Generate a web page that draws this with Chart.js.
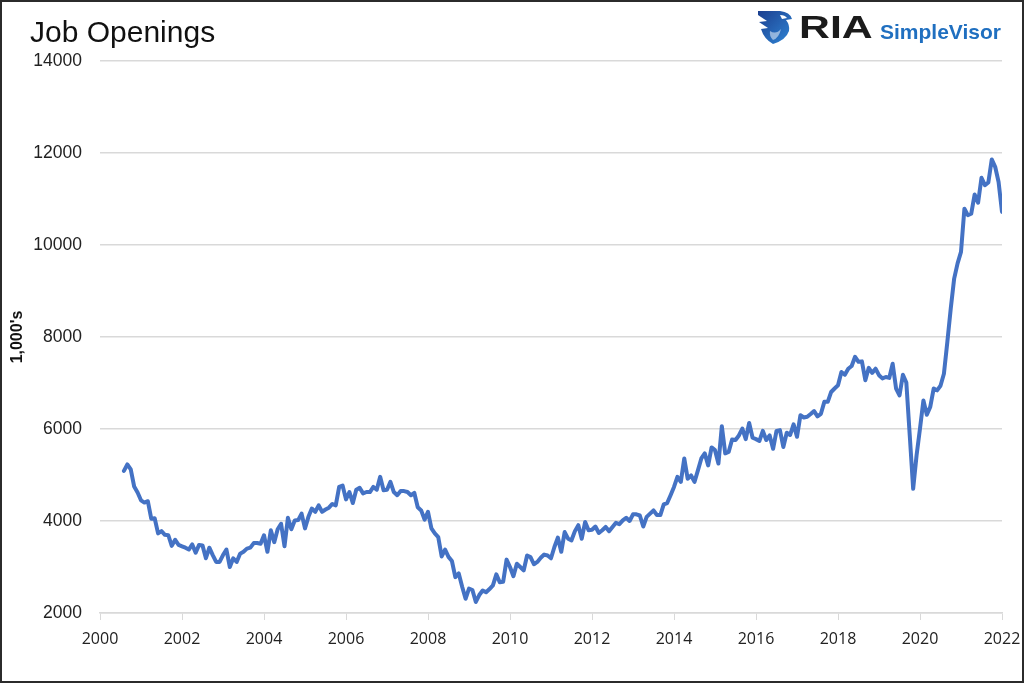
<!DOCTYPE html>
<html>
<head>
<meta charset="utf-8">
<title>Job Openings</title>
<script src="https://cdn.jsdelivr.net/npm/chart.js@4.4.1/dist/chart.umd.min.js"></script>
<style>
    html, body { margin: 0; padding: 0; background: #fff; }
    #wrap { position: relative; width: 1024px; height: 683px; overflow: hidden; }
    #jobChart { position: absolute; left: 0; top: 0; }
    #title {
        position: absolute; left: 30px; top: 17px;
        font-family: "Liberation Sans", Arial, sans-serif;
        font-size: 30px; line-height: 30px; color: #111;
    }
    #logo { position: absolute; left: 756px; top: 9px; height: 36px; }
    #logo svg { position: absolute; left: 0; top: 0; }
    #ria {
        position: absolute; left: 43px; top: 3px;
        font-family: "Liberation Sans", Arial, sans-serif; font-weight: bold;
        font-size: 31px; line-height: 31px; color: #1b1b1b;
        transform: scaleX(1.38); transform-origin: left top;
    }
    #sv {
        position: absolute; left: 124px; top: 12px;
        font-family: "Liberation Sans", Arial, sans-serif; font-weight: bold;
        font-size: 21px; line-height: 21px; color: #1f6fc0; white-space: nowrap;
    }
</style>
</head>
<body>
<div id="wrap">
    <canvas id="jobChart" width="1024" height="683"></canvas>
    <div id="title">Job Openings</div>
    <div id="logo">
        <svg width="38" height="36" viewBox="0 0 38 36">
            <defs>
                <linearGradient id="eg" x1="0" y1="0" x2="1" y2="1">
                    <stop offset="0" stop-color="#1c3f8f"/>
                    <stop offset="1" stop-color="#2f86d6"/>
                </linearGradient>
            </defs>
            <path d="M2 2 L24 2 Q34 3 36 10 L30 11 Q34 16 33 22 Q30 31 17 35 Q8 30 5 20 L12 19 L3 13 L11 12 L2 6 Z" fill="url(#eg)"/>
            <path d="M24 6 Q29 6 31 9 L26 10 Z" fill="#fff"/>
            <path d="M14 22 Q20 26 25 20 Q23 29 17 31 Q13 27 14 22 Z" fill="#fff" opacity="0.5"/>
        </svg>
        <div id="ria">RIA</div>
        <div id="sv">SimpleVisor</div>
    </div>
</div>
<script>
// monthly job openings (thousands), first value is Aug 2000
const startYear = 2000;
const startMonth = 8;

const v2000 = [5090, 5230, 5120, 4750, 4620];
const v2001 = [4450, 4400, 4430, 4050, 4060, 3730, 3780, 3700, 3690, 3460, 3590, 3480];
const v2002 = [3450, 3420, 3380, 3490, 3310, 3480, 3470, 3190, 3420, 3260, 3110, 3110];
const v2003 = [3260, 3380, 3000, 3190, 3110, 3290, 3330, 3400, 3420, 3520, 3520, 3505];
const v2004 = [3690, 3330, 3800, 3540, 3820, 3940, 3450, 4070, 3820, 4010, 4020, 4160];
const v2005 = [3840, 4090, 4270, 4200, 4340, 4200, 4250, 4290, 4370, 4340, 4740, 4770];
const v2006 = [4470, 4630, 4390, 4680, 4720, 4600, 4630, 4630, 4740, 4680, 4960, 4670];
const v2007 = [4680, 4850, 4630, 4560, 4650, 4650, 4630, 4560, 4610, 4300, 4230, 4030];
const v2008 = [4200, 3840, 3730, 3650, 3230, 3380, 3220, 3130, 2780, 2860, 2570, 2310];
const v2009 = [2530, 2500, 2240, 2390, 2490, 2450, 2520, 2600, 2840, 2670, 2680, 3160];
const v2010 = [3000, 2800, 3070, 3000, 2925, 3250, 3215, 3060, 3110, 3200, 3270, 3250];
const v2011 = [3190, 3435, 3640, 3330, 3760, 3615, 3580, 3780, 3910, 3615, 3980, 3800];
const v2012 = [3810, 3880, 3740, 3800, 3870, 3780, 3870, 3960, 3930, 4015, 4070, 4000];
const v2013 = [4145, 4145, 4120, 3880, 4090, 4160, 4230, 4130, 4130, 4360, 4390, 4560];
const v2014 = [4740, 4960, 4850, 5360, 4920, 4990, 4850, 5100, 5360, 5470, 5210, 5600];
const v2015 = [5540, 5250, 6060, 5470, 5500, 5770, 5760, 5860, 6010, 5780, 6130, 5810];
const v2016 = [5780, 5740, 5960, 5760, 5860, 5570, 5960, 5975, 5610, 5920, 5870, 6100];
const v2017 = [5830, 6300, 6250, 6265, 6325, 6390, 6275, 6330, 6590, 6590, 6805, 6880];
const v2018 = [6950, 7240, 7180, 7310, 7370, 7570, 7460, 7470, 7060, 7330, 7220, 7310];
const v2019 = [7170, 7100, 7130, 7110, 7420, 6880, 6730, 7180, 7010, 5860, 4700, 5430];
const v2020 = [6010, 6620, 6310, 6480, 6880, 6840, 6940, 7200, 7890, 8620, 9270, 9600];
const v2021 = [9850, 10790, 10650, 10680, 11100, 10920, 11460, 11300, 11360, 11860, 11700, 11370];
const v2022 = [10720];

const openings = [].concat(v2000, v2001, v2002, v2003, v2004, v2005, v2006, v2007, v2008,
    v2009, v2010, v2011, v2012, v2013, v2014, v2015, v2016, v2017, v2018, v2019, v2020,
    v2021, v2022);

const yearTicks = [2000, 2002, 2004, 2006, 2008, 2010, 2012, 2014, 2016, 2018, 2020, 2022];
const valueTicks = [2000, 4000, 6000, 8000, 10000, 12000, 14000];

document.addEventListener("DOMContentLoaded", function () {
    const ctx = document.getElementById("jobChart").getContext("2d");

    // month i -> decimal year
    const points = openings.map((v, i) => ({
        x: startYear + (startMonth - 1 + i) / 12,
        y: v
    }));

    const framePlugin = {
        id: "frame",
        afterDraw(chart) {
            const c = chart.ctx;
            c.save();
            c.strokeStyle = "#2b2b2b";
            c.lineWidth = 2;
            c.strokeRect(1, 1, chart.width - 2, chart.height - 2);
            c.restore();
        }
    };

    new Chart(ctx, {
        type: "line",
        data: {
            datasets: [{
                label: "Job Openings",
                data: points,
                borderColor: "#4472C4",
                borderWidth: 4,
                pointRadius: 0,
                tension: 0,
                borderJoinStyle: "round",
                borderCapStyle: "round"
            }]
        },
        options: {
            responsive: false,
            animation: false,
            layout: { padding: { left: 0, top: 61, right: 22, bottom: 0 } },
            plugins: {
                legend: { display: false },
                tooltip: { enabled: false }
            },
            scales: {
                x: {
                    type: "linear",
                    min: 2000,
                    max: 2022,
                    afterBuildTicks: scale => { scale.ticks = yearTicks.map(v => ({ value: v })); },
                    afterFit: scale => {
                        scale.height = 70;
                        scale.paddingLeft = 0;
                        scale.paddingRight = 0;
                    },
                    grid: {
                        drawOnChartArea: false,
                        drawTicks: true,
                        tickLength: 7,
                        color: "#d9d9d9"
                    },
                    border: { display: true, color: "#d9d9d9", width: 1.5 },
                    ticks: {
                        padding: 10,
                        maxRotation: 0,
                        color: "#222",
                        font: { family: "'Open Sans', sans-serif", size: 16 },
                        callback: v => String(v)
                    }
                },
                y: {
                    min: 2000,
                    max: 14000,
                    afterBuildTicks: scale => { scale.ticks = valueTicks.map(v => ({ value: v })); },
                    afterFit: scale => { scale.width = 100; },
                    grid: { color: "#d9d9d9", lineWidth: 1.5, drawTicks: false },
                    border: { display: false },
                    ticks: {
                        padding: 18,
                        color: "#222",
                        font: { family: "'Liberation Sans', Arial, sans-serif", size: 17.5 },
                        callback: v => String(v)
                    },
                    title: {
                        display: true,
                        text: "1,000's",
                        color: "#111",
                        padding: { top: 8, bottom: 0 },
                        font: { family: "'Liberation Sans', Arial, sans-serif", size: 16, weight: "bold" }
                    }
                }
            }
        },
        plugins: [framePlugin]
    });
});
</script>
</body>
</html>
